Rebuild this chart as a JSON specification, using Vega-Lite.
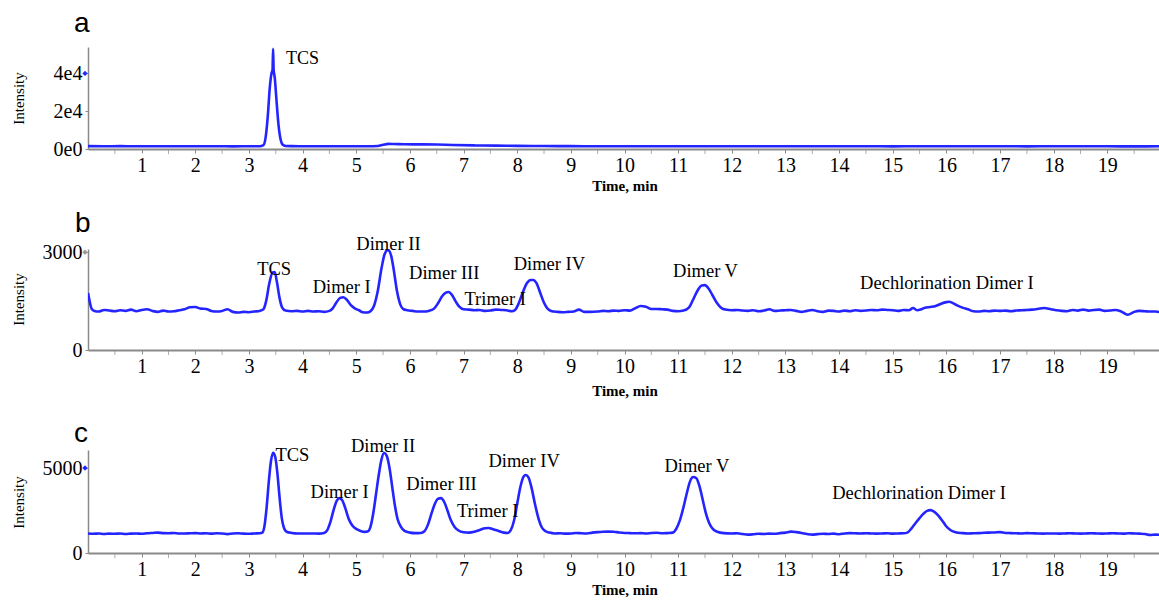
{
 "$schema": "https://vega.github.io/schema/vega-lite/v6.json",
 "padding": {"left": 11, "top": 10, "right": 0, "bottom": 0},
 "background": "white",
 "bounds": "flush",
 "spacing": 100,
 "config": {
  "view": {"stroke": null},
  "axis": {"grid": false, "labelOverlap": false, "labelFont": "Liberation Serif", "labelColor": "#000", "titleFont": "Liberation Serif", "titleColor": "#000", "domainColor": "#8a8a8a", "tickColor": "#8a8a8a"}
 },
 "datasets": {
  "minor": [
   {"t":0.5},{"t":1.5},{"t":2.5},{"t":3.5},{"t":4.5},{"t":5.5},{"t":6.5},{"t":7.5},{"t":8.5},{"t":9.5},{"t":10.5},{"t":11.5},{"t":12.5},{"t":13.5},{"t":14.5},{"t":15.5},{"t":16.5},{"t":17.5},{"t":18.5},{"t":19.5}
  ],
  "a": [
   {"t":0,"v":1500},{"t":0.3,"v":1450},{"t":0.6,"v":1500},{"t":0.9,"v":1420},{"t":1.2,"v":1480},{"t":1.5,"v":1430},{"t":1.8,"v":1470},{"t":2.1,"v":1420},{"t":2.4,"v":1460},{"t":2.7,"v":1400},{"t":3.0,"v":1430},{"t":3.2,"v":1450},
   {"t":3.27,"v":2000},{"t":3.31,"v":6000},{"t":3.35,"v":17000},{"t":3.39,"v":33000},{"t":3.42,"v":40000},{"t":3.44,"v":42000},{"t":3.45,"v":53000},{"t":3.46,"v":42000},{"t":3.48,"v":38000},{"t":3.51,"v":27000},{"t":3.55,"v":13000},{"t":3.59,"v":5000},{"t":3.63,"v":2200},{"t":3.68,"v":1600},
   {"t":3.8,"v":1500},{"t":4.0,"v":1450},{"t":4.4,"v":1480},{"t":4.8,"v":1420},{"t":5.2,"v":1450},{"t":5.4,"v":1600},{"t":5.5,"v":2200},{"t":5.6,"v":2700},{"t":5.7,"v":2650},{"t":5.9,"v":2500},{"t":6.2,"v":2450},{"t":6.5,"v":2350},{"t":6.8,"v":2100},{"t":7.2,"v":1900},{"t":7.6,"v":1800},{"t":8.0,"v":1650},{"t":8.5,"v":1550},{"t":9.0,"v":1500},{"t":9.5,"v":1480},{"t":10,"v":1450},{"t":10.5,"v":1480},{"t":11,"v":1430},{"t":11.5,"v":1460},{"t":12,"v":1420},{"t":12.5,"v":1450},{"t":13,"v":1430},{"t":13.5,"v":1460},{"t":14,"v":1420},{"t":14.5,"v":1440},{"t":15,"v":1410},{"t":15.5,"v":1450},{"t":16,"v":1430},{"t":16.5,"v":1420},{"t":17,"v":1450},{"t":17.5,"v":1410},{"t":18,"v":1440},{"t":18.5,"v":1420},{"t":19,"v":1430},{"t":19.5,"v":1400},{"t":20,"v":1420}
  ],
  "b": [
   {"t":0,"v":1750},{"t":0.03,"v":1500},{"t":0.07,"v":1260},{"t":0.12,"v":1200},{"t":0.2,"v":1180},{"t":0.3,"v":1230},{"t":0.4,"v":1210},{"t":0.5,"v":1190},{"t":0.6,"v":1220},{"t":0.7,"v":1200},{"t":0.8,"v":1240},{"t":0.9,"v":1190},{"t":1.0,"v":1230},{"t":1.1,"v":1250},{"t":1.2,"v":1200},{"t":1.3,"v":1170},{"t":1.4,"v":1210},{"t":1.5,"v":1180},{"t":1.6,"v":1190},{"t":1.7,"v":1220},{"t":1.8,"v":1250},{"t":1.9,"v":1310},{"t":2.0,"v":1320},{"t":2.1,"v":1270},{"t":2.2,"v":1260},{"t":2.3,"v":1200},{"t":2.4,"v":1180},{"t":2.5,"v":1200},{"t":2.6,"v":1250},{"t":2.7,"v":1170},{"t":2.8,"v":1150},{"t":2.9,"v":1170},{"t":3.0,"v":1160},{"t":3.1,"v":1180},{"t":3.2,"v":1200},
   {"t":3.27,"v":1250},{"t":3.32,"v":1500},{"t":3.38,"v":2050},{"t":3.44,"v":2380},{"t":3.48,"v":2390},{"t":3.52,"v":2100},{"t":3.57,"v":1600},{"t":3.62,"v":1300},{"t":3.68,"v":1210},{"t":3.8,"v":1190},{"t":3.9,"v":1200},{"t":4.0,"v":1180},{"t":4.1,"v":1200},{"t":4.2,"v":1180},{"t":4.3,"v":1190},{"t":4.4,"v":1170},{"t":4.5,"v":1200},
   {"t":4.56,"v":1280},{"t":4.63,"v":1460},{"t":4.7,"v":1600},{"t":4.76,"v":1620},{"t":4.83,"v":1530},{"t":4.9,"v":1380},{"t":4.98,"v":1270},{"t":5.05,"v":1220},{"t":5.12,"v":1160},{"t":5.2,"v":1150},
   {"t":5.27,"v":1200},{"t":5.33,"v":1350},{"t":5.4,"v":1800},{"t":5.47,"v":2500},{"t":5.53,"v":2950},{"t":5.59,"v":3070},{"t":5.65,"v":2900},{"t":5.7,"v":2450},{"t":5.76,"v":1800},{"t":5.82,"v":1400},{"t":5.88,"v":1250},{"t":5.95,"v":1220},{"t":6.05,"v":1200},{"t":6.15,"v":1180},{"t":6.25,"v":1180},{"t":6.35,"v":1200},
   {"t":6.45,"v":1270},{"t":6.53,"v":1450},{"t":6.6,"v":1650},{"t":6.67,"v":1760},{"t":6.72,"v":1780},{"t":6.78,"v":1700},{"t":6.85,"v":1500},{"t":6.92,"v":1330},{"t":7.0,"v":1250},{"t":7.1,"v":1240},{"t":7.2,"v":1220},{"t":7.3,"v":1230},{"t":7.4,"v":1200},{"t":7.5,"v":1210},{"t":7.6,"v":1240},{"t":7.7,"v":1230},{"t":7.8,"v":1220},{"t":7.9,"v":1190},
   {"t":7.96,"v":1230},{"t":8.02,"v":1400},{"t":8.1,"v":1750},{"t":8.18,"v":2050},{"t":8.25,"v":2150},{"t":8.3,"v":2150},{"t":8.36,"v":2050},{"t":8.43,"v":1750},{"t":8.5,"v":1450},{"t":8.56,"v":1280},{"t":8.63,"v":1200},{"t":8.75,"v":1170},{"t":8.85,"v":1160},{"t":8.95,"v":1170},{"t":9.05,"v":1180},{"t":9.15,"v":1240},{"t":9.25,"v":1170},{"t":9.35,"v":1170},{"t":9.5,"v":1180},{"t":9.6,"v":1200},{"t":9.7,"v":1190},{"t":9.8,"v":1210},{"t":9.9,"v":1200},{"t":10.0,"v":1220},{"t":10.1,"v":1210},{"t":10.2,"v":1280},{"t":10.3,"v":1350},{"t":10.4,"v":1330},{"t":10.5,"v":1260},{"t":10.6,"v":1260},{"t":10.7,"v":1250},{"t":10.8,"v":1240},{"t":10.9,"v":1200},{"t":11.0,"v":1190},{"t":11.1,"v":1210},
   {"t":11.2,"v":1300},{"t":11.28,"v":1550},{"t":11.36,"v":1820},{"t":11.44,"v":1980},{"t":11.5,"v":1990},{"t":11.57,"v":1880},{"t":11.64,"v":1680},{"t":11.72,"v":1450},{"t":11.8,"v":1300},{"t":11.88,"v":1240},{"t":12.0,"v":1220},{"t":12.1,"v":1230},{"t":12.2,"v":1210},{"t":12.3,"v":1200},{"t":12.4,"v":1220},{"t":12.5,"v":1190},{"t":12.6,"v":1210},{"t":12.7,"v":1250},{"t":12.8,"v":1200},{"t":12.9,"v":1210},{"t":13.0,"v":1220},{"t":13.1,"v":1230},{"t":13.2,"v":1200},{"t":13.3,"v":1170},{"t":13.4,"v":1200},{"t":13.5,"v":1230},{"t":13.6,"v":1190},{"t":13.7,"v":1170},{"t":13.8,"v":1210},{"t":13.9,"v":1200},{"t":14.0,"v":1180},{"t":14.1,"v":1210},{"t":14.2,"v":1190},{"t":14.3,"v":1220},{"t":14.4,"v":1200},{"t":14.5,"v":1210},{"t":14.6,"v":1230},{"t":14.7,"v":1220},{"t":14.8,"v":1240},{"t":14.9,"v":1230},{"t":15.0,"v":1220},{"t":15.1,"v":1200},{"t":15.2,"v":1230},{"t":15.3,"v":1220},{"t":15.38,"v":1290},{"t":15.45,"v":1220},{"t":15.52,"v":1240},
   {"t":15.6,"v":1300},{"t":15.7,"v":1320},{"t":15.8,"v":1350},{"t":15.9,"v":1420},{"t":16.0,"v":1470},{"t":16.05,"v":1480},{"t":16.12,"v":1440},{"t":16.2,"v":1370},{"t":16.3,"v":1300},{"t":16.4,"v":1250},{"t":16.5,"v":1190},{"t":16.6,"v":1180},{"t":16.7,"v":1200},{"t":16.8,"v":1190},{"t":16.9,"v":1210},{"t":17.0,"v":1200},{"t":17.1,"v":1210},{"t":17.2,"v":1190},{"t":17.3,"v":1210},{"t":17.4,"v":1220},{"t":17.5,"v":1230},{"t":17.6,"v":1240},{"t":17.7,"v":1260},{"t":17.82,"v":1290},{"t":17.95,"v":1250},{"t":18.05,"v":1220},{"t":18.15,"v":1200},{"t":18.25,"v":1190},{"t":18.35,"v":1230},{"t":18.45,"v":1210},{"t":18.55,"v":1240},{"t":18.65,"v":1210},{"t":18.75,"v":1230},{"t":18.85,"v":1240},{"t":18.95,"v":1200},{"t":19.05,"v":1210},{"t":19.15,"v":1230},{"t":19.25,"v":1190},{"t":19.38,"v":1080},{"t":19.5,"v":1170},{"t":19.6,"v":1200},{"t":19.7,"v":1190},{"t":19.8,"v":1180},{"t":19.9,"v":1180},{"t":20.0,"v":1150}
  ],
  "c": [
   {"t":0.0,"v":1150},{"t":0.1,"v":1130},{"t":0.2,"v":1150},{"t":0.3,"v":1120},{"t":0.4,"v":1140},{"t":0.5,"v":1130},{"t":0.6,"v":1150},{"t":0.7,"v":1120},{"t":0.8,"v":1140},{"t":0.9,"v":1150},{"t":1.0,"v":1130},{"t":1.1,"v":1160},{"t":1.2,"v":1180},{"t":1.3,"v":1200},{"t":1.4,"v":1170},{"t":1.5,"v":1160},{"t":1.6,"v":1180},{"t":1.7,"v":1150},{"t":1.8,"v":1150},{"t":1.9,"v":1160},{"t":2.0,"v":1170},{"t":2.1,"v":1150},{"t":2.2,"v":1160},{"t":2.3,"v":1140},{"t":2.4,"v":1160},{"t":2.5,"v":1150},{"t":2.6,"v":1110},{"t":2.7,"v":1150},{"t":2.8,"v":1160},{"t":2.9,"v":1140},{"t":3.0,"v":1130},{"t":3.1,"v":1150},{"t":3.2,"v":1160},
   {"t":3.25,"v":1200},{"t":3.29,"v":1600},{"t":3.33,"v":2700},{"t":3.37,"v":4200},{"t":3.41,"v":5400},{"t":3.45,"v":5900},{"t":3.49,"v":5650},{"t":3.53,"v":4700},{"t":3.57,"v":3300},{"t":3.61,"v":2100},{"t":3.65,"v":1500},{"t":3.7,"v":1250},{"t":3.8,"v":1180},{"t":3.9,"v":1150},{"t":4.0,"v":1150},{"t":4.1,"v":1150},{"t":4.2,"v":1150},{"t":4.3,"v":1140},{"t":4.4,"v":1180},
   {"t":4.46,"v":1350},{"t":4.52,"v":1850},{"t":4.58,"v":2550},{"t":4.64,"v":3100},{"t":4.69,"v":3230},{"t":4.74,"v":3100},{"t":4.8,"v":2600},{"t":4.86,"v":2000},{"t":4.92,"v":1650},{"t":5.0,"v":1420},{"t":5.08,"v":1300},{"t":5.16,"v":1240},
   {"t":5.22,"v":1280},{"t":5.27,"v":1600},{"t":5.32,"v":2400},{"t":5.37,"v":3500},{"t":5.42,"v":4600},{"t":5.47,"v":5500},{"t":5.52,"v":5880},{"t":5.57,"v":5700},{"t":5.62,"v":5000},{"t":5.67,"v":3900},{"t":5.72,"v":2800},{"t":5.77,"v":2000},{"t":5.83,"v":1550},{"t":5.9,"v":1300},{"t":6.0,"v":1200},{"t":6.1,"v":1170},{"t":6.2,"v":1180},
   {"t":6.27,"v":1280},{"t":6.34,"v":1700},{"t":6.4,"v":2300},{"t":6.46,"v":2850},{"t":6.52,"v":3180},{"t":6.58,"v":3230},{"t":6.64,"v":3000},{"t":6.7,"v":2500},{"t":6.76,"v":1950},{"t":6.83,"v":1550},{"t":6.9,"v":1340},{"t":7.0,"v":1220},{"t":7.1,"v":1200},{"t":7.2,"v":1250},{"t":7.3,"v":1350},{"t":7.4,"v":1460},{"t":7.47,"v":1470},{"t":7.55,"v":1400},{"t":7.65,"v":1300},{"t":7.75,"v":1200},{"t":7.82,"v":1180},
   {"t":7.88,"v":1350},{"t":7.94,"v":1900},{"t":8.0,"v":2900},{"t":8.06,"v":3900},{"t":8.12,"v":4500},{"t":8.16,"v":4590},{"t":8.21,"v":4450},{"t":8.27,"v":3800},{"t":8.33,"v":2900},{"t":8.4,"v":2000},{"t":8.46,"v":1500},{"t":8.53,"v":1280},{"t":8.6,"v":1200},{"t":8.7,"v":1150},{"t":8.8,"v":1160},{"t":8.9,"v":1140},{"t":9.0,"v":1150},{"t":9.1,"v":1180},{"t":9.2,"v":1160},{"t":9.3,"v":1150},{"t":9.4,"v":1200},{"t":9.5,"v":1230},{"t":9.6,"v":1250},{"t":9.7,"v":1260},{"t":9.8,"v":1250},{"t":9.9,"v":1210},{"t":10.0,"v":1180},{"t":10.1,"v":1170},{"t":10.2,"v":1160},{"t":10.3,"v":1170},{"t":10.4,"v":1150},{"t":10.5,"v":1180},{"t":10.6,"v":1190},{"t":10.7,"v":1160},{"t":10.8,"v":1170},{"t":10.9,"v":1200},
   {"t":10.96,"v":1400},{"t":11.03,"v":1900},{"t":11.1,"v":2700},{"t":11.16,"v":3500},{"t":11.22,"v":4200},{"t":11.28,"v":4470},{"t":11.34,"v":4400},{"t":11.4,"v":3900},{"t":11.46,"v":3100},{"t":11.52,"v":2300},{"t":11.58,"v":1750},{"t":11.65,"v":1400},{"t":11.73,"v":1250},{"t":11.85,"v":1170},{"t":12.0,"v":1150},{"t":12.1,"v":1160},{"t":12.2,"v":1120},{"t":12.3,"v":1080},{"t":12.4,"v":1100},{"t":12.5,"v":1130},{"t":12.6,"v":1120},{"t":12.7,"v":1140},{"t":12.8,"v":1130},{"t":12.9,"v":1170},{"t":13.0,"v":1200},{"t":13.1,"v":1260},{"t":13.2,"v":1230},{"t":13.3,"v":1180},{"t":13.4,"v":1120},{"t":13.5,"v":1080},{"t":13.6,"v":1110},{"t":13.7,"v":1130},{"t":13.8,"v":1120},{"t":13.9,"v":1140},{"t":14.0,"v":1100},{"t":14.1,"v":1150},{"t":14.2,"v":1170},{"t":14.3,"v":1160},{"t":14.4,"v":1150},{"t":14.5,"v":1160},{"t":14.6,"v":1150},{"t":14.7,"v":1140},{"t":14.8,"v":1150},{"t":14.9,"v":1160},{"t":15.0,"v":1140},{"t":15.1,"v":1150},{"t":15.2,"v":1160},
   {"t":15.27,"v":1200},{"t":15.35,"v":1450},{"t":15.43,"v":1780},{"t":15.5,"v":2050},{"t":15.57,"v":2300},{"t":15.64,"v":2480},{"t":15.7,"v":2520},{"t":15.77,"v":2430},{"t":15.85,"v":2200},{"t":15.93,"v":1870},{"t":16.0,"v":1560},{"t":16.08,"v":1340},{"t":16.17,"v":1220},{"t":16.3,"v":1170},{"t":16.4,"v":1150},{"t":16.5,"v":1160},{"t":16.6,"v":1170},{"t":16.7,"v":1190},{"t":16.8,"v":1200},{"t":16.9,"v":1210},{"t":17.0,"v":1230},{"t":17.1,"v":1180},{"t":17.2,"v":1170},{"t":17.3,"v":1160},{"t":17.4,"v":1150},{"t":17.5,"v":1170},{"t":17.6,"v":1160},{"t":17.7,"v":1150},{"t":17.8,"v":1140},{"t":17.9,"v":1150},{"t":18.0,"v":1150},{"t":18.1,"v":1140},{"t":18.2,"v":1150},{"t":18.3,"v":1160},{"t":18.4,"v":1150},{"t":18.5,"v":1140},{"t":18.6,"v":1150},{"t":18.7,"v":1160},{"t":18.8,"v":1150},{"t":18.9,"v":1140},{"t":19.0,"v":1150},{"t":19.1,"v":1160},{"t":19.2,"v":1150},{"t":19.3,"v":1140},{"t":19.4,"v":1160},{"t":19.5,"v":1150},{"t":19.6,"v":1140},{"t":19.7,"v":1120},{"t":19.8,"v":1060},{"t":19.9,"v":1080},{"t":20.0,"v":1070}
  ],
  "ann": [
   {"panel":"a","label":"TCS","t":4.0,"v":47650},
   {"panel":"b","label":"TCS","t":3.47,"v":2486},
   {"panel":"b","label":"Dimer I","t":4.73,"v":1934},
   {"panel":"b","label":"Dimer II","t":5.6,"v":3254},
   {"panel":"b","label":"Dimer III","t":6.64,"v":2363},
   {"panel":"b","label":"Trimer I","t":7.59,"v":1565},
   {"panel":"b","label":"Dimer IV","t":8.6,"v":2640},
   {"panel":"b","label":"Dimer V","t":11.51,"v":2425},
   {"panel":"b","label":"Dechlorination Dimer I","t":16.01,"v":2057},
   {"panel":"c","label":"TCS","t":3.81,"v":5765},
   {"panel":"c","label":"Dimer I","t":4.69,"v":3589},
   {"panel":"c","label":"Dimer II","t":5.5,"v":6295},
   {"panel":"c","label":"Dimer III","t":6.59,"v":4060},
   {"panel":"c","label":"Trimer I","t":7.45,"v":2471},
   {"panel":"c","label":"Dimer IV","t":8.13,"v":5413},
   {"panel":"c","label":"Dimer V","t":11.35,"v":5118},
   {"panel":"c","label":"Dechlorination Dimer I","t":15.49,"v":3530}
  ],
  "mk": [
   {"panel":"a","t":0,"v":40000},
   {"panel":"b","t":0,"v":3000},
   {"panel":"c","t":0,"v":5000}
  ]
 },
 "vconcat": [
  {
   "width": 1073, "height": 102,
   "title": {"text": "a", "anchor": "start", "frame": "group", "dx": -14, "offset": -13, "baseline": "alphabetic", "font": "Liberation Sans", "fontSize": 28, "fontWeight": "normal", "color": "#000"},
   "layer": [
    {"data": {"name": "a"},
     "mark": {"type": "line", "color": "#2424ff", "strokeWidth": 2.6, "interpolate": "monotone", "clip": true},
     "encoding": {
      "x": {"field": "t", "type": "quantitative", "scale": {"domain": [0, 20], "nice": false, "zero": false},
       "axis": {"values": [1,2,3,4,5,6,7,8,9,10,11,12,13,14,15,16,17,18,19], "format": "d", "tickSize": 4, "domainWidth": 2, "labelPadding": 2, "labelFontSize": 20, "labelOverlap": false, "labelFlush": false,
        "title": "Time, min", "titleFontSize": 15, "titleFontWeight": "bold", "titlePadding": 3}},
      "y": {"field": "v", "type": "quantitative", "scale": {"domain": [0, 54000], "nice": false},
       "axis": {"values": [0,20000,40000], "labelExpr": "datum.value == 0 ? '0e0' : (datum.value/10000) + 'e4'", "tickSize": 3, "domainWidth": 1.5, "labelPadding": 3, "labelFontSize": 20, "labelOverlap": false,
        "title": "Intensity", "titleFontSize": 15, "titleFontWeight": "normal", "titleX": -62, "titleY": 51, "titleAngle": 270, "titleBaseline": "bottom"}}
     }},
    {"data": {"name": "minor"},
     "mark": {"type": "tick", "orient": "vertical", "size": 4, "thickness": 1, "yOffset": 3, "color": "#8a8a8a"},
     "encoding": {"x": {"field": "t", "type": "quantitative"}, "y": {"datum": 0, "type": "quantitative"}}},
    {"data": {"name": "ann"}, "transform": [{"filter": "datum.panel == 'a'"}],
     "mark": {"type": "text", "font": "Liberation Serif", "fontSize": 18, "align": "center", "baseline": "middle", "color": "#000"},
     "encoding": {"x": {"field": "t", "type": "quantitative"}, "y": {"field": "v", "type": "quantitative"}, "text": {"field": "label"}}},
    {"data": {"name": "mk"}, "transform": [{"filter": "datum.panel == 'a'"}],
     "mark": {"type": "point", "shape": "diamond", "filled": true, "size": 28, "xOffset": -3, "color": "#2424ff", "opacity": 1},
     "encoding": {"x": {"field": "t", "type": "quantitative"}, "y": {"field": "v", "type": "quantitative"}}}
   ]
  },
  {
   "width": 1073, "height": 101,
   "title": {"text": "b", "anchor": "start", "frame": "group", "dx": -13, "offset": -25, "baseline": "alphabetic", "font": "Liberation Sans", "fontSize": 28, "fontWeight": "normal", "color": "#000"},
   "layer": [
    {"data": {"name": "b"},
     "mark": {"type": "line", "color": "#2424ff", "strokeWidth": 2.6, "interpolate": "monotone", "clip": true},
     "encoding": {
      "x": {"field": "t", "type": "quantitative", "scale": {"domain": [0, 20], "nice": false, "zero": false},
       "axis": {"values": [1,2,3,4,5,6,7,8,9,10,11,12,13,14,15,16,17,18,19], "format": "d", "tickSize": 4, "domainWidth": 2, "labelPadding": 2, "labelFontSize": 20, "labelOverlap": false, "labelFlush": false,
        "title": "Time, min", "titleFontSize": 15, "titleFontWeight": "bold", "titlePadding": 7}},
      "y": {"field": "v", "type": "quantitative", "scale": {"domain": [0, 3100], "nice": false},
       "axis": {"values": [0,1000,2000,3000], "format": "d", "tickSize": 3, "domainWidth": 1.5, "labelPadding": 3, "labelFontSize": 20, "labelOverlap": false,
        "title": "Intensity", "titleFontSize": 15, "titleFontWeight": "normal", "titleX": -62, "titleY": 50, "titleAngle": 270, "titleBaseline": "bottom"}}
     }},
    {"data": {"name": "minor"},
     "mark": {"type": "tick", "orient": "vertical", "size": 4, "thickness": 1, "yOffset": 3, "color": "#8a8a8a"},
     "encoding": {"x": {"field": "t", "type": "quantitative"}, "y": {"datum": 0, "type": "quantitative"}}},
    {"data": {"name": "ann"}, "transform": [{"filter": "datum.panel == 'b'"}],
     "mark": {"type": "text", "font": "Liberation Serif", "fontSize": 18.5, "align": "center", "baseline": "middle", "color": "#000"},
     "encoding": {"x": {"field": "t", "type": "quantitative"}, "y": {"field": "v", "type": "quantitative"}, "text": {"field": "label"}}},
    {"data": {"name": "mk"}, "transform": [{"filter": "datum.panel == 'b'"}],
     "mark": {"type": "point", "shape": "diamond", "filled": true, "size": 28, "xOffset": -3, "color": "#9a9a9a", "opacity": 1},
     "encoding": {"x": {"field": "t", "type": "quantitative"}, "y": {"field": "v", "type": "quantitative"}}}
   ]
  },
  {
   "width": 1073, "height": 103,
   "title": {"text": "c", "anchor": "start", "frame": "group", "dx": -14, "offset": -33, "baseline": "alphabetic", "font": "Liberation Sans", "fontSize": 28, "fontWeight": "normal", "color": "#000"},
   "layer": [
    {"data": {"name": "c"},
     "mark": {"type": "line", "color": "#2424ff", "strokeWidth": 2.6, "interpolate": "monotone", "clip": true},
     "encoding": {
      "x": {"field": "t", "type": "quantitative", "scale": {"domain": [0, 20], "nice": false, "zero": false},
       "axis": {"values": [1,2,3,4,5,6,7,8,9,10,11,12,13,14,15,16,17,18,19], "format": "d", "tickSize": 4, "domainWidth": 2, "labelPadding": 2, "labelFontSize": 20, "labelOverlap": false, "labelFlush": false,
        "title": "Time, min", "titleFontSize": 15, "titleFontWeight": "bold", "titlePadding": 3}},
      "y": {"field": "v", "type": "quantitative", "scale": {"domain": [0, 6060], "nice": false},
       "axis": {"values": [0,5000], "format": "d", "tickSize": 3, "domainWidth": 1.5, "labelPadding": 3, "labelFontSize": 20, "labelOverlap": false,
        "title": "Intensity", "titleFontSize": 15, "titleFontWeight": "normal", "titleX": -62, "titleY": 52, "titleAngle": 270, "titleBaseline": "bottom"}}
     }},
    {"data": {"name": "minor"},
     "mark": {"type": "tick", "orient": "vertical", "size": 4, "thickness": 1, "yOffset": 3, "color": "#8a8a8a"},
     "encoding": {"x": {"field": "t", "type": "quantitative"}, "y": {"datum": 0, "type": "quantitative"}}},
    {"data": {"name": "ann"}, "transform": [{"filter": "datum.panel == 'c'"}],
     "mark": {"type": "text", "font": "Liberation Serif", "fontSize": 18.5, "align": "center", "baseline": "middle", "color": "#000"},
     "encoding": {"x": {"field": "t", "type": "quantitative"}, "y": {"field": "v", "type": "quantitative"}, "text": {"field": "label"}}},
    {"data": {"name": "mk"}, "transform": [{"filter": "datum.panel == 'c'"}],
     "mark": {"type": "point", "shape": "diamond", "filled": true, "size": 28, "xOffset": -3, "color": "#2424ff", "opacity": 1},
     "encoding": {"x": {"field": "t", "type": "quantitative"}, "y": {"field": "v", "type": "quantitative"}}}
   ]
  }
 ]
}
